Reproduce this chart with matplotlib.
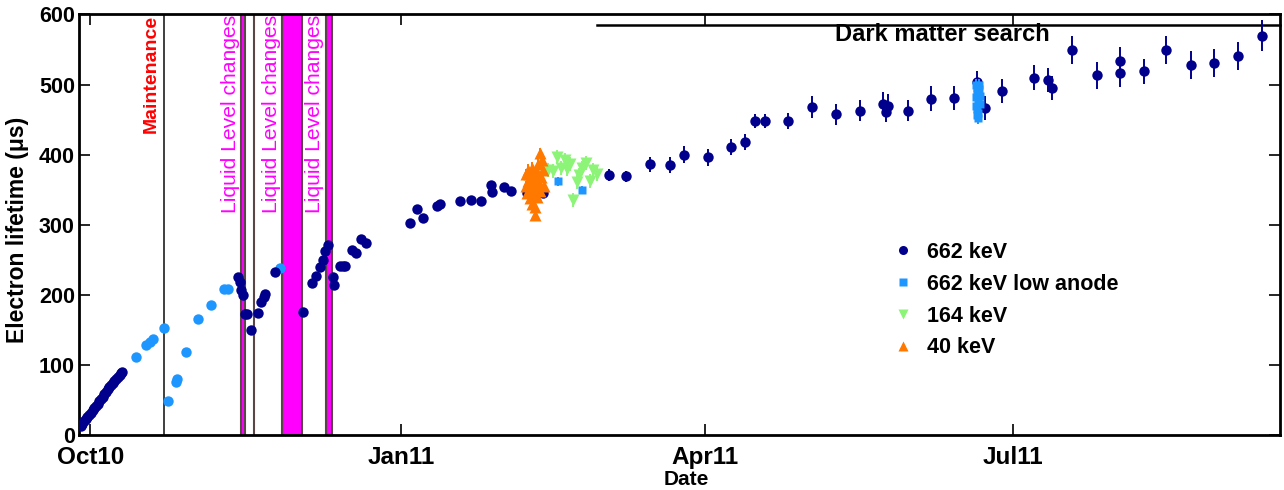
import numpy as np
import matplotlib
matplotlib.use("Agg")
import matplotlib.pyplot as plt
import matplotlib.dates as mdates
from matplotlib.lines import Line2D
from datetime import datetime, timedelta

plt.rcParams['font.family'] = ['Liberation Sans', 'DejaVu Sans']

BASE = datetime(2010, 10, 1)

# ---------------- data (x = days since 1 Oct 2010, y = lifetime in us) ----------------
d662_days = [-2.9, -2.4, -1.9, -1.4, -0.9, -0.4, 0.1, 0.6, 1.1, 1.6, 2.1, 2.6, 3.1, 3.6,
             4.1, 4.6, 5.1, 5.6, 6.1, 6.6, 7.1, 7.6, 8.1, 8.6, 9.1, 9.4,
             43.7, 44.2, 44.7, 45.0, 45.7, 46.4, 47.4, 49.6, 50.6, 51.3, 51.6, 54.6,
             62.9, 65.7, 66.7, 67.9, 68.9, 69.4, 70.3, 71.8, 72.0, 73.8, 74.6, 75.3,
             77.3, 78.7, 80.2, 81.5,
             94.5, 96.7, 98.5, 102.6, 103.6, 109.3, 112.5, 115.5, 118.7, 118.9, 122.4,
             124.6, 129.1, 134.0,
             153.5, 158.5, 165.6, 171.5, 175.7, 182.8, 189.5, 193.7, 196.7, 199.8, 206.5,
             213.7, 220.6, 227.7, 234.6, 235.4, 236.1, 241.9, 248.8, 255.7, 262.3, 264.7,
             269.9, 279.3, 283.5, 284.5, 290.6, 297.8, 304.7, 304.7, 311.7, 318.5, 325.7,
             332.6, 339.7, 346.8]
d662_vals = [12.8, 16, 19.5, 22.5, 25.5, 28.5, 32, 35, 38, 41, 44.5, 48, 51, 54.5,
             58, 61.5, 65, 68, 71, 73.5, 77, 80, 83, 86, 88.5, 90,
             226, 219, 207, 200, 172, 172, 150, 174, 190, 197, 201, 233,
             176, 217, 227, 240, 250, 262, 271, 226, 214, 241, 241, 241,
             264, 259, 279, 274,
             303, 323, 310, 327, 330, 334, 335, 334, 357, 347, 354,
             348, 345, 346,
             371, 369, 386, 385, 400, 396, 411, 418, 448, 448, 448,
             468, 458, 463, 473, 461, 470, 463, 480, 481, 503, 467,
             491, 510, 507, 495, 549, 513, 534, 516, 519, 549, 528,
             531, 541, 570]
d662_errs = [3] * 26 + [3] * 12 + [3] * 16 + [4] * 14 + \
            [9, 8, 11, 11, 12, 12, 12, 12, 10, 10, 11,
             16, 15, 15, 16, 15, 16, 15, 18, 17, 17, 17,
             17, 18, 17, 17, 20, 19, 20, 20, 18, 20, 20,
             20, 20, 22]

low_early_days = [13.6, 16.4, 17.6, 18.5, 21.8, 22.8, 25.3, 25.6, 28.4, 31.9, 35.8,
                  39.5, 40.7, 56.1]
low_early_vals = [112, 128, 133, 136.5, 152, 49, 75, 80, 119, 166, 185.5,
                  208, 208, 238]

low_days = [138.4, 145.4,
            262.0, 262.3, 262.5, 262.2, 262.6, 262.1, 262.4, 262.8, 262.3, 263.0,
            263.2, 263.4, 263.1, 262.7]
low_vals = [362, 350,
            500, 495, 488, 482, 476, 470, 465, 460, 456, 494,
            484, 472, 500, 452]
low_errs = [6, 6] + [8] * 14

k164_days = [135.5, 137.0, 138.0, 139.4, 140.4, 141.0, 142.0, 142.9, 143.9, 144.6,
             145.4, 146.6, 147.8, 148.8, 149.8]
k164_vals = [378, 376, 397, 381, 392, 380, 386, 335, 361, 371,
             381, 388, 362, 378, 373]

k40_days = [128.8, 129.0, 129.3, 129.5, 129.6, 129.8, 130.0, 130.2, 130.4, 130.6,
            130.8, 131.0, 131.2, 131.4, 131.5, 131.7, 131.9, 132.1, 132.3, 132.5,
            132.7, 133.0, 133.2, 133.4, 133.6, 133.9, 134.2]
k40_vals = [372, 355, 345, 362, 378, 372, 338, 350, 366, 381,
            330, 344, 358, 370, 314, 326, 352, 340, 375, 386,
            360, 402, 348, 368, 392, 378, 355]

series_labels = ['662 keV', '662 keV low anode', '164 keV', '40 keV']

maintenance_day = 21.7
liquid_lines = [48.4]
liquid_bands = [(44.7, 45.7), (56.8, 62.6), (69.6, 71.6)]
liquid_text_days = [41.4, 53.6, 66.4]
maintenance_text_day = 18.0
dm_start_day = 150.0
dm_level = 585
x_range = (-3.4, 352.1)


def todate(days):
    return [BASE + timedelta(days=float(d)) for d in days]


NAVY = '#00008c'
LIGHT = '#1e96ff'
GREEN = '#8cf578'
ORANGE = '#ff7800'
MAGENTA = '#ff00ff'
EDGE = '#5a4646'

fig = plt.figure(figsize=(12.84, 4.90), dpi=100)
ax = fig.add_axes([79 / 1284, 1 - 435 / 490, (1280 - 79) / 1284, (435 - 14.5) / 490])

# vertical markers
ax.axvline(todate([maintenance_day])[0], color='#303030', lw=1.3, zorder=1)
for d in liquid_lines:
    ax.axvline(todate([d])[0], color=EDGE, lw=1.5, zorder=1)
for a, b in liquid_bands:
    da, db = todate([a, b])
    ax.axvspan(da, db, facecolor=MAGENTA, edgecolor=EDGE, lw=1.5, zorder=1)

ax.text(todate([maintenance_text_day])[0], 600, 'Maintenance', rotation=90,
        color='#ff0000', fontsize=14, fontweight='bold', ha='center', va='top', zorder=2)
for d in liquid_text_days:
    ax.text(todate([d])[0], 600, 'Liquid Level changes', rotation=90,
            color=MAGENTA, fontsize=15.2, ha='center', va='top', zorder=2)

# Dark matter search
dm_x = todate([dm_start_day, x_range[1]])
ax.plot(dm_x, [dm_level, dm_level], color='black', lw=1.8, zorder=2, clip_on=False)
ax.text(todate([284])[0], 572, 'Dark matter search', fontsize=17,
        fontweight='bold', ha='right', va='center')

# data
ax.errorbar(todate(low_early_days), low_early_vals, fmt='o', color=LIGHT, ms=7.5,
            mec='none', zorder=3)
ax.errorbar(todate(d662_days), d662_vals, yerr=d662_errs, fmt='o', color=NAVY, ms=7.5,
            mec='none', elinewidth=1.4, capsize=0, zorder=4)
ax.errorbar(todate(low_days), low_vals, yerr=low_errs, fmt='s', color=LIGHT, ms=6,
            mec='none', elinewidth=1.4, capsize=0, zorder=5)
ax.errorbar(todate(k164_days), k164_vals, yerr=10, fmt='v', color=GREEN, ms=8,
            mec='none', elinewidth=1.4, capsize=0, zorder=5)
ax.errorbar(todate(k40_days), k40_vals, yerr=8, fmt='^', color=ORANGE, ms=8,
            mec='none', elinewidth=1.4, capsize=0, zorder=6)

ax.set_xlim(todate(x_range))
ax.set_ylim(0, 600)
ax.set_yticks(np.arange(0, 601, 100))
ax.xaxis.set_major_locator(mdates.MonthLocator(bymonth=[1, 4, 7, 10]))
ax.xaxis.set_major_formatter(mdates.DateFormatter('%b%y'))
ax.xaxis.set_minor_locator(plt.NullLocator())

ax.tick_params(axis='both', which='major', direction='in', length=8, width=1.2,
               top=True, right=True)
ax.tick_params(axis='x', pad=8, labelsize=17.5)
ax.tick_params(axis='y', pad=3, labelsize=15.5)
for lab in ax.get_xticklabels() + ax.get_yticklabels():
    lab.set_fontweight('bold')
for sp in ax.spines.values():
    sp.set_linewidth(2)

ax.set_ylabel('Electron lifetime (μs)', fontsize=16.5, fontweight='bold')
ax.yaxis.set_label_coords(-0.0415, 0.488)
ax.set_xlabel('Date', fontsize=15, fontweight='bold')
ax.xaxis.set_label_coords(0.506, -0.083)

handles = [Line2D([], [], ls='none', marker='o', color=NAVY, mec='none', ms=6.5),
           Line2D([], [], ls='none', marker='s', color=LIGHT, mec='none', ms=5.5),
           Line2D([], [], ls='none', marker='v', color=GREEN, mec='none', ms=7),
           Line2D([], [], ls='none', marker='^', color=ORANGE, mec='none', ms=7)]
ax.legend(handles, series_labels, loc='upper left', bbox_to_anchor=(0.663, 0.505),
          frameon=False, prop={'weight': 'bold', 'size': 15.5},
          handlelength=0.8, handletextpad=0.7, labelspacing=0.5)

fig.savefig('out.png', dpi=100)
